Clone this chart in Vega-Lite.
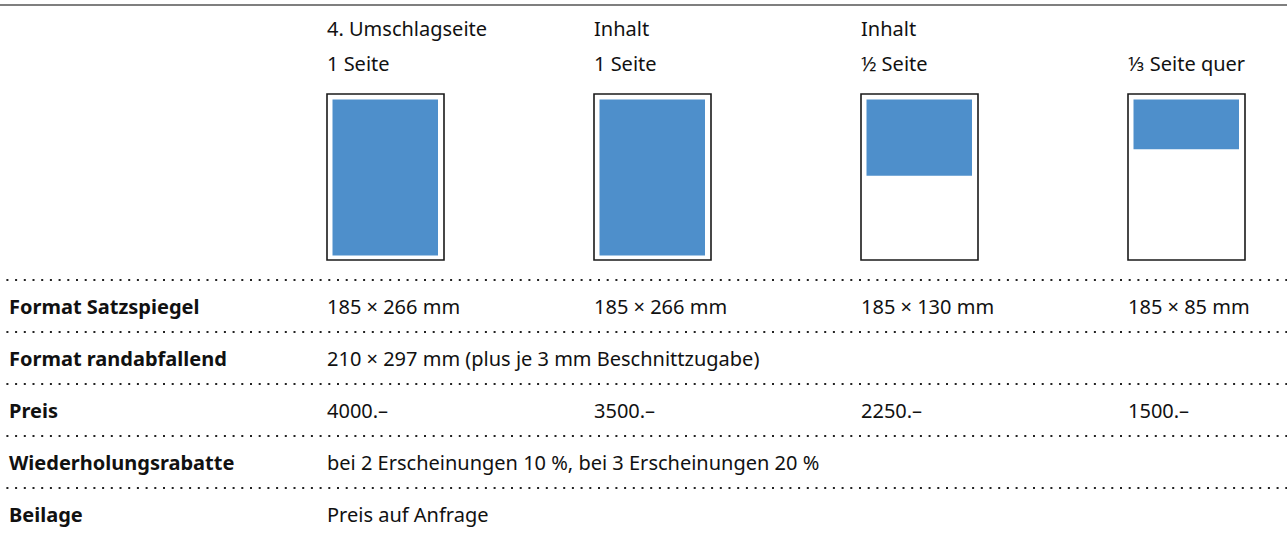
{
  "$schema": "https://vega.github.io/schema/vega-lite/v6.json",
  "width": 1287,
  "height": 540,
  "autosize": {"type": "none"},
  "padding": 0,
  "background": "white",
  "config": {"view": {"stroke": null}, "text": {"font": "Noto Sans", "fontSize": 20, "color": "#111111", "align": "left", "baseline": "alphabetic", "dy": 8}},
  "datasets": {
    "heads": [
      {"col": 1, "row": -2, "text": "4. Umschlagseite"},
      {"col": 1, "row": -1, "text": "1 Seite"},
      {"col": 2, "row": -2, "text": "Inhalt"},
      {"col": 2, "row": -1, "text": "1 Seite"},
      {"col": 3, "row": -2, "text": "Inhalt"},
      {"col": 3, "row": -1, "text": "½ Seite"},
      {"col": 4, "row": -1, "text": "⅓ Seite quer"}
    ],
    "labels": [
      {"col": 0, "row": 1, "text": "Format Satzspiegel"},
      {"col": 0, "row": 2, "text": "Format randabfallend"},
      {"col": 0, "row": 3, "text": "Preis"},
      {"col": 0, "row": 4, "text": "Wiederholungsrabatte"},
      {"col": 0, "row": 5, "text": "Beilage"}
    ],
    "cells": [
      {"row": 1, "col": 1, "text": "185 × 266 mm"},
      {"row": 1, "col": 2, "text": "185 × 266 mm"},
      {"row": 1, "col": 3, "text": "185 × 130 mm"},
      {"row": 1, "col": 4, "text": "185 × 85 mm"},
      {"row": 2, "col": 1, "text": "210 × 297 mm (plus je 3 mm Beschnittzugabe)"},
      {"row": 3, "col": 1, "text": "4000.–"},
      {"row": 3, "col": 2, "text": "3500.–"},
      {"row": 3, "col": 3, "text": "2250.–"},
      {"row": 3, "col": 4, "text": "1500.–"},
      {"row": 4, "col": 1, "text": "bei 2 Erscheinungen 10 %, bei 3 Erscheinungen 20 %"},
      {"row": 5, "col": 1, "text": "Preis auf Anfrage"}
    ],
    "pages": [
      {"col": 1, "top": 0, "h": 266, "page": 297},
      {"col": 2, "top": 0, "h": 266, "page": 297},
      {"col": 3, "top": 0, "h": 130, "page": 297},
      {"col": 4, "top": 0, "h": 85, "page": 297}
    ]
  },
  "resolve": {"scale": {"y": "independent"}},
  "layer": [
    {
      "data": {"name": "labels"},
      "mark": {"type": "rule", "color": "#222222", "strokeWidth": 2, "strokeDash": [2, 6.7], "yOffset": -26, "xOffset": 9},
      "encoding": {
        "y": {"field": "row", "type": "quantitative", "scale": {"domain": [-3, -2, -1, 1, 5], "range": [5, 28, 63, 306, 514]}, "axis": null}
      }
    },
    {
      "data": {"values": [{"row": -3}]},
      "mark": {"type": "rule", "color": "#555555", "strokeWidth": 1.5, "xOffset": 9},
      "encoding": {
        "y": {"field": "row", "type": "quantitative", "scale": {"domain": [-3, -2, -1, 1, 5], "range": [5, 28, 63, 306, 514]}, "axis": null}
      }
    },
    {
      "data": {"name": "pages"},
      "mark": {"type": "rect", "fill": "white", "stroke": "#1a1a1a", "strokeWidth": 1.6, "x2Offset": 117},
      "encoding": {
        "x": {"field": "col", "type": "quantitative", "scale": {"domain": [0, 1, 4], "range": [9, 327, 1128]}, "axis": null},
        "x2": {"field": "col"},
        "y": {"field": "top", "type": "quantitative", "scale": {"domain": [0, 297], "range": [94, 260]}, "axis": null},
        "y2": {"field": "page"}
      }
    },
    {
      "data": {"name": "pages"},
      "mark": {"type": "rect", "fill": "#4e8fcb", "xOffset": 5.5, "x2Offset": 111},
      "encoding": {
        "x": {"field": "col", "type": "quantitative"},
        "x2": {"field": "col"},
        "y": {"field": "top", "type": "quantitative", "scale": {"domain": [0, 266], "range": [99.5, 255.5]}, "axis": null},
        "y2": {"field": "h"}
      }
    },
    {
      "data": {"name": "heads"},
      "mark": {"type": "text"},
      "encoding": {
        "x": {"field": "col", "type": "quantitative"},
        "y": {"field": "row", "type": "quantitative", "scale": {"domain": [-3, -2, -1, 1, 5], "range": [5, 28, 63, 306, 514]}, "axis": null},
        "text": {"field": "text"}
      }
    },
    {
      "data": {"name": "labels"},
      "mark": {"type": "text", "fontWeight": "bold", "fontSize": 20},
      "encoding": {
        "x": {"field": "col", "type": "quantitative"},
        "y": {"field": "row", "type": "quantitative", "scale": {"domain": [-3, -2, -1, 1, 5], "range": [5, 28, 63, 306, 514]}, "axis": null},
        "text": {"field": "text"}
      }
    },
    {
      "data": {"name": "cells"},
      "mark": {"type": "text"},
      "encoding": {
        "x": {"field": "col", "type": "quantitative"},
        "y": {"field": "row", "type": "quantitative", "scale": {"domain": [-3, -2, -1, 1, 5], "range": [5, 28, 63, 306, 514]}, "axis": null},
        "text": {"field": "text"}
      }
    }
  ]
}
